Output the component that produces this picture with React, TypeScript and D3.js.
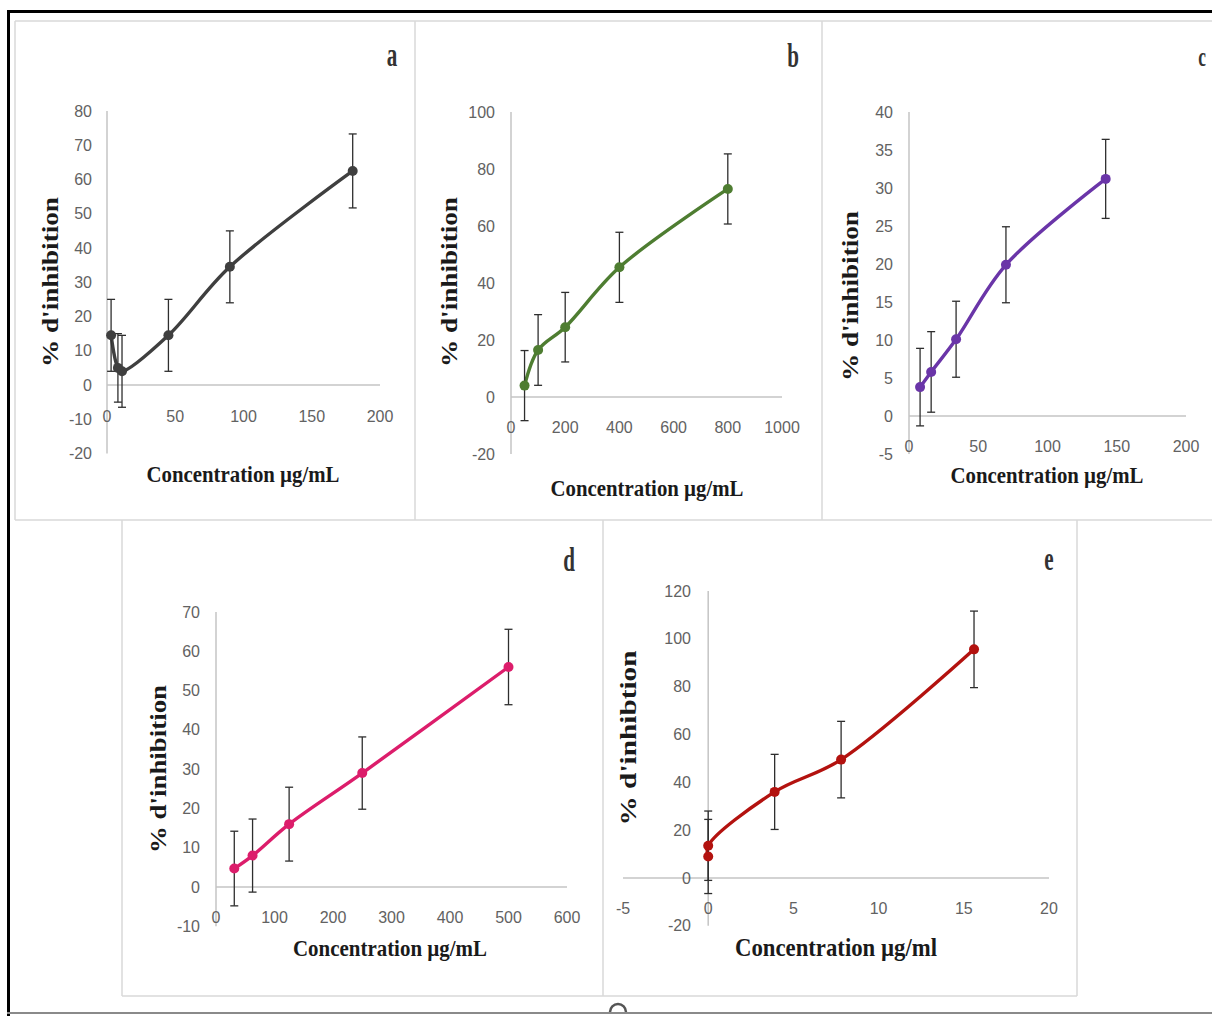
import React from "react";
import * as d3 from "d3";

// Panel a — dose/response values (µg/mL, % inhibition, ± error)
const aConc = [3, 8, 11, 45, 90, 180];
const aInhib = [14.5, 5, 4, 14.5, 34.5, 62.5];
const aErr = [10.5, 10, 10.5, 10.5, 10.5, 10.8];
const aXTicks = [0, 50, 100, 150, 200];
const aYTicks = [-20, -10, 0, 10, 20, 30, 40, 50, 60, 70, 80];

// Panel b
const bConc = [50, 100, 200, 400, 800];
const bInhib = [4, 16.5, 24.5, 45.5, 73];
const bErr = [12.3, 12.4, 12.2, 12.3, 12.3];
const bXTicks = [0, 200, 400, 600, 800, 1000];
const bYTicks = [-20, 0, 20, 40, 60, 80, 100];

// Panel c
const cConc = [8, 16, 34, 70, 142];
const cInhib = [3.8, 5.8, 10.1, 19.9, 31.2];
const cErr = [5.1, 5.3, 5, 5, 5.2];
const cXTicks = [0, 50, 100, 150, 200];
const cYTicks = [-5, 0, 5, 10, 15, 20, 25, 30, 35, 40];

// Panel d
const dConc = [31.25, 62.5, 125, 250, 500];
const dInhib = [4.7, 8, 16, 29, 56];
const dErr = [9.5, 9.3, 9.4, 9.2, 9.6];
const dXTicks = [0, 100, 200, 300, 400, 500, 600];
const dYTicks = [-10, 0, 10, 20, 30, 40, 50, 60, 70];

// Panel e
const eConc = [0, 0, 3.9, 7.8, 15.6];
const eInhib = [9, 13.5, 36, 49.5, 95.6];
const eErr = [15.5, 14.5, 15.7, 16, 16];
const eXTicks = [-5, 0, 5, 10, 15, 20];
const eYTicks = [-20, 0, 20, 40, 60, 80, 100, 120];

const serif = "'Liberation Serif', 'Times New Roman', serif";
const sans = "'Liberation Sans', Arial, sans-serif";

type PanelSpec = {
  letter: string;
  conc: number[];
  inhib: number[];
  err: number[];
  color: string;
  xDomain: [number, number];
  xRange: [number, number];
  yDomain: [number, number];
  yRange: [number, number];
  xTicks: number[];
  yTicks: number[];
  yLabelRight: number;
  xLabelY: number;
  xTitle: string;
  xTitleAt: [number, number];
  xTitleLen: number;
  xTitleSize: number;
  yTitle: string;
  yTitleAt: [number, number];
  yTitleLen: number;
  letterAt: [number, number];
  letterSize: number;
};

const panels: PanelSpec[] = [
  {
    letter: "a", conc: aConc, inhib: aInhib, err: aErr, color: "#3f3f3f",
    xDomain: [0, 200], xRange: [107, 380], yDomain: [0, 80], yRange: [385, 111],
    xTicks: aXTicks, yTicks: aYTicks, yLabelRight: 92, xLabelY: 416,
    xTitle: "Concentration µg/mL", xTitleAt: [243, 474], xTitleLen: 193, xTitleSize: 23.5,
    yTitle: "% d'inhibition", yTitleAt: [50, 282], yTitleLen: 170,
    letterAt: [392, 66], letterSize: 34,
  },
  {
    letter: "b", conc: bConc, inhib: bInhib, err: bErr, color: "#4e7d31",
    xDomain: [0, 1000], xRange: [511, 782], yDomain: [0, 100], yRange: [397, 112],
    xTicks: bXTicks, yTicks: bYTicks, yLabelRight: 495, xLabelY: 427,
    xTitle: "Concentration µg/mL", xTitleAt: [647, 488], xTitleLen: 193, xTitleSize: 23.5,
    yTitle: "% d'inhibition", yTitleAt: [449, 282], yTitleLen: 170,
    letterAt: [793, 67], letterSize: 34,
  },
  {
    letter: "c", conc: cConc, inhib: cInhib, err: cErr, color: "#6a35a8",
    xDomain: [0, 200], xRange: [909, 1186], yDomain: [0, 40], yRange: [416, 112],
    xTicks: cXTicks, yTicks: cYTicks, yLabelRight: 893, xLabelY: 446,
    xTitle: "Concentration µg/mL", xTitleAt: [1047, 475], xTitleLen: 193, xTitleSize: 23.5,
    yTitle: "% d'inhibition", yTitleAt: [850, 296], yTitleLen: 170,
    letterAt: [1202, 66], letterSize: 28,
  },
  {
    letter: "d", conc: dConc, inhib: dInhib, err: dErr, color: "#dc1d6b",
    xDomain: [0, 600], xRange: [216, 567], yDomain: [0, 70], yRange: [887, 612],
    xTicks: dXTicks, yTicks: dYTicks, yLabelRight: 200, xLabelY: 917,
    xTitle: "Concentration µg/mL", xTitleAt: [390, 948], xTitleLen: 194, xTitleSize: 23.5,
    yTitle: "% d'inhibition", yTitleAt: [158, 769], yTitleLen: 168,
    letterAt: [569, 571], letterSize: 34,
  },
  {
    letter: "e", conc: eConc, inhib: eInhib, err: eErr, color: "#b3120f",
    xDomain: [-5, 20], xRange: [623, 1049], yDomain: [0, 120], yRange: [878, 591],
    xTicks: eXTicks, yTicks: eYTicks, yLabelRight: 691, xLabelY: 908,
    xTitle: "Concentration µg/ml", xTitleAt: [836, 947], xTitleLen: 202, xTitleSize: 26,
    yTitle: "% d'inhibtion", yTitleAt: [628, 738], yTitleLen: 175,
    letterAt: [1049, 570], letterSize: 34,
  },
];

function Panel({ p }: { p: PanelSpec }) {
  const x = d3.scaleLinear().domain(p.xDomain).range(p.xRange);
  const y = d3.scaleLinear().domain(p.yDomain).range(p.yRange);
  const pts = p.conc.map((c, i) => ({ c, v: p.inhib[i], e: p.err[i] }));
  const line = d3
    .line<{ c: number; v: number }>()
    .x((d) => x(d.c))
    .y((d) => y(d.v))
    .curve(d3.curveCatmullRom.alpha(0.5));

  const yMin = d3.min(p.yTicks) as number;
  const yMax = d3.max(p.yTicks) as number;
  const xMin = d3.min(p.xTicks) as number;
  const xMax = d3.max(p.xTicks) as number;
  const cap = 4;

  return (
    <g>
      {/* axes */}
      <line x1={x(0)} x2={x(0)} y1={y(yMax)} y2={y(yMin)} stroke="#c4c4c4" strokeWidth={1.5} />
      <line x1={x(xMin)} x2={x(xMax)} y1={y(0)} y2={y(0)} stroke="#c4c4c4" strokeWidth={1.5} />

      {/* tick labels */}
      {p.yTicks.map((t) => (
        <text key={"y" + t} x={p.yLabelRight} y={y(t)} textAnchor="end" dominantBaseline="central"
          fontFamily={sans} fontSize={16} fill="#626262">{t}</text>
      ))}
      {p.xTicks.map((t) => (
        <text key={"x" + t} x={x(t)} y={p.xLabelY} textAnchor="middle" dominantBaseline="central"
          fontFamily={sans} fontSize={16} fill="#626262">{t}</text>
      ))}

      {/* series line */}
      <path d={line(pts) || ""} fill="none" stroke={p.color} strokeWidth={3.4} strokeLinejoin="round" />

      {/* error bars */}
      {pts.map((d, i) => (
        <g key={"e" + i} stroke="#2e2e2e" strokeWidth={1.3}>
          <line x1={x(d.c)} x2={x(d.c)} y1={y(d.v + d.e)} y2={y(d.v - d.e)} />
          <line x1={x(d.c) - cap} x2={x(d.c) + cap} y1={y(d.v + d.e)} y2={y(d.v + d.e)} />
          <line x1={x(d.c) - cap} x2={x(d.c) + cap} y1={y(d.v - d.e)} y2={y(d.v - d.e)} />
        </g>
      ))}

      {/* markers */}
      {pts.map((d, i) => (
        <circle key={"m" + i} cx={x(d.c)} cy={y(d.v)} r={5} fill={p.color} />
      ))}

      {/* titles */}
      <text x={p.xTitleAt[0]} y={p.xTitleAt[1]} textAnchor="middle" dominantBaseline="central"
        fontFamily={serif} fontWeight="bold" fontSize={p.xTitleSize} fill="#1a1a1a"
        textLength={p.xTitleLen} lengthAdjust="spacingAndGlyphs">{p.xTitle}</text>
      <text transform={`translate(${p.yTitleAt[0]},${p.yTitleAt[1]}) rotate(-90)`} textAnchor="middle"
        dominantBaseline="central" fontFamily={serif} fontWeight="bold" fontSize={23} fill="#1a1a1a"
        textLength={p.yTitleLen} lengthAdjust="spacingAndGlyphs">{p.yTitle}</text>

      {/* panel letter */}
      <text transform={`translate(${p.letterAt[0]},${p.letterAt[1]}) scale(0.62,1)`} textAnchor="middle"
        fontFamily={serif} fontWeight="bold" fontSize={p.letterSize} fill="#333">{p.letter}</text>
    </g>
  );
}

export default function App() {
  const W = 1212;
  const H = 1016;
  const grid = "#d8d8d8";
  return (
    <div style={{ position: "absolute", left: 0, top: 0 }}>
      <svg width={W} height={H} viewBox={`0 0 ${W} ${H}`} style={{ display: "block", background: "#fff" }}>
        <defs>
          <clipPath id="aboveBase">
            <rect x={0} y={0} width={W} height={1012} />
          </clipPath>
        </defs>

        {/* panel frames, top row */}
        <g stroke={grid} strokeWidth={1.5} fill="none">
          <line x1={15} x2={W} y1={21} y2={21} />
          <line x1={15} x2={W} y1={520} y2={520} />
          <line x1={15} x2={15} y1={21} y2={520} />
          <line x1={415} x2={415} y1={21} y2={520} />
          <line x1={822} x2={822} y1={21} y2={520} />
          {/* bottom row */}
          <line x1={122} x2={1077} y1={996} y2={996} />
          <line x1={122} x2={122} y1={520} y2={996} />
          <line x1={603} x2={603} y1={520} y2={996} />
          <line x1={1077} x2={1077} y1={520} y2={996} />
        </g>

        {panels.map((p) => (
          <Panel key={p.letter} p={p} />
        ))}

        {/* outer frame */}
        <line x1={8.5} x2={8.5} y1={10} y2={H} stroke="#000" strokeWidth={3} />
        <line x1={7} x2={W} y1={11.5} y2={11.5} stroke="#000" strokeWidth={3} />
        <line x1={7} x2={W} y1={1013} y2={1013} stroke="#8a8a8a" strokeWidth={2} />
        <circle cx={618} cy={1012} r={8} fill="#fff" stroke="#555" strokeWidth={2.5} clipPath="url(#aboveBase)" />
      </svg>
    </div>
  );
}
